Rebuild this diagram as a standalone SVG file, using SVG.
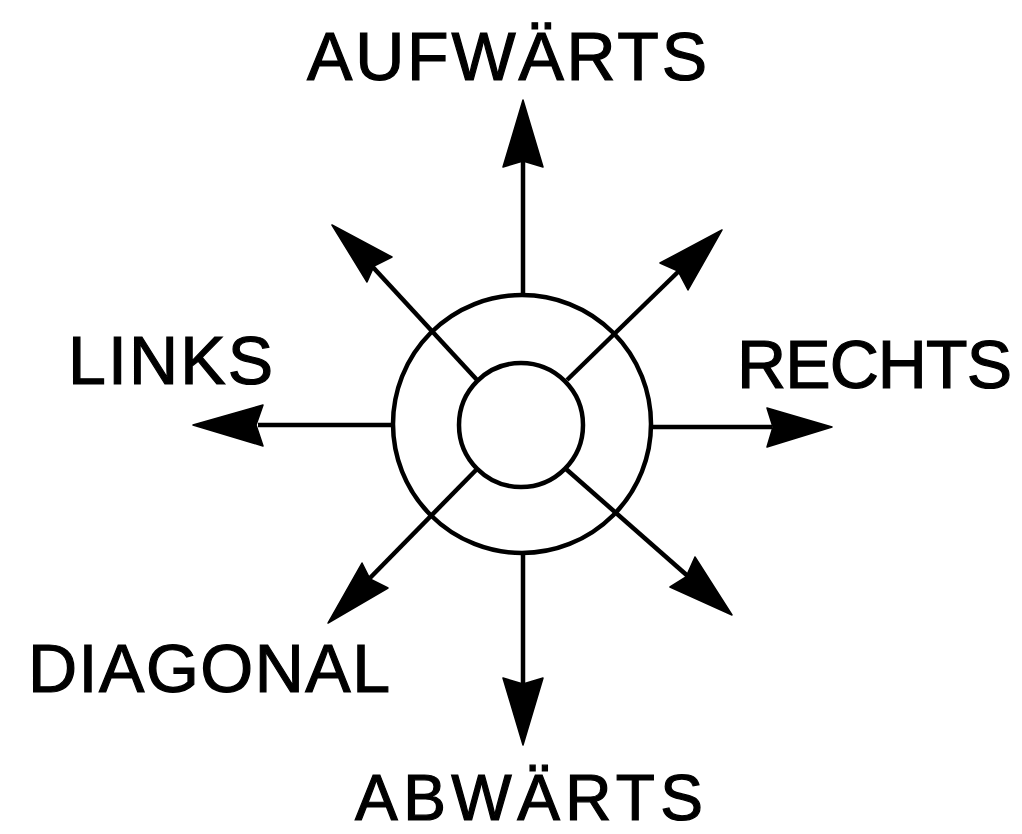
<svg xmlns="http://www.w3.org/2000/svg" width="1022" height="834" viewBox="0 0 1022 834">
<style>
.ln{stroke:#000;stroke-width:4.5;fill:none;stroke-linecap:butt}
.head{fill:#000;stroke:#000;stroke-width:1.5;stroke-linejoin:round}
.lbl{font-family:"Liberation Sans",Arial,sans-serif;font-size:68px;fill:#000;stroke:#000;stroke-width:1.2}
</style>
<rect width="1022" height="834" fill="#fff"/>
<g id="connectors">
<line class="ln" x1="523" y1="295" x2="523" y2="160"/>
<path class="head" d="M523,100 L543,167 L523,161 L503,167 Z"/>
<line class="ln" x1="523" y1="553" x2="523" y2="685"/>
<path class="head" d="M523,745 L503,678 L523,684 L543,678 Z"/>
<line class="ln" x1="393" y1="425" x2="258" y2="425"/>
<path class="head" d="M193,425 L263,405 L256,425 L263,446 Z"/>
<line class="ln" x1="651" y1="427" x2="772" y2="427"/>
<path class="head" d="M832,427 L767,447 L773,427 L767,408 Z"/>
<line class="ln" x1="478" y1="381" x2="370" y2="264"/>
<path class="head" d="M332,225 L392,257 L374,266 L367,282 Z"/>
<line class="ln" x1="567" y1="380" x2="680" y2="270"/>
<path class="head" d="M722,230 L660,263 L678,271 L688,290 Z"/>
<line class="ln" x1="566" y1="469" x2="690" y2="578"/>
<path class="head" d="M732,615 L695,557 L686,577 L670,587 Z"/>
<line class="ln" x1="478" y1="468" x2="368" y2="580"/>
<path class="head" d="M328,623 L362,563 L370,579 L388,588 Z"/>
</g>
<g id="rings">
<circle class="ln" cx="522" cy="424" r="129"/>
<circle class="ln" cx="521" cy="425" r="62"/>
</g>
<g id="labels">
<text id="aufwaerts" class="lbl" x="507" y="80" text-anchor="middle" textLength="400">AUFWÄRTS</text>
<text id="abwaerts" class="lbl" x="529" y="820" text-anchor="middle" textLength="348" style="font-size:64px">ABWÄRTS</text>
<text id="links" class="lbl" x="68" y="384" textLength="205">LINKS</text>
<text id="rechts" class="lbl" x="737" y="388" textLength="275">RECHTS</text>
<text id="diagonal" class="lbl" x="28" y="692" textLength="362">DIAGONAL</text>
</g>
</svg>
